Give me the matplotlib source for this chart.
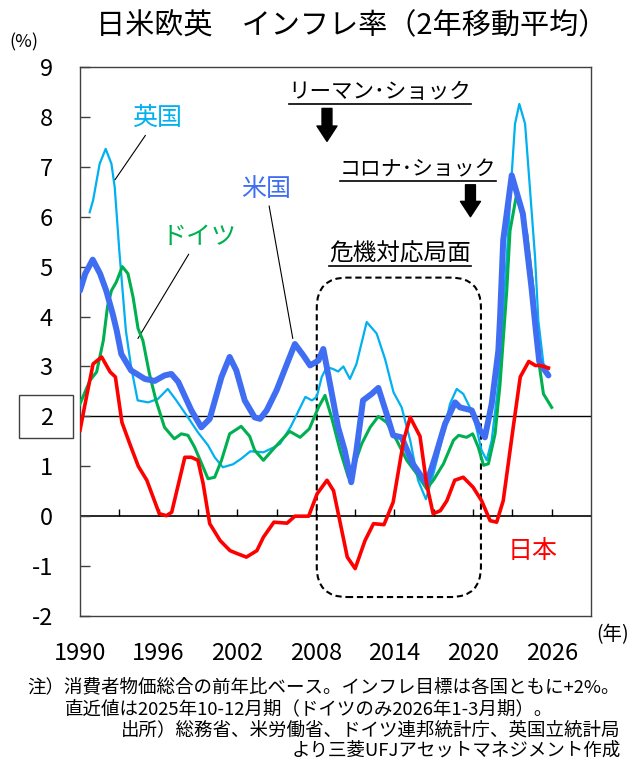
import matplotlib
matplotlib.use("Agg")
import matplotlib.pyplot as plt
import matplotlib.transforms as mtransforms
from matplotlib.patches import FancyBboxPatch, Rectangle
from matplotlib.lines import Line2D

plt.rcParams["font.family"] = ["Noto Sans CJK JP", "DejaVu Sans"]
plt.rcParams["axes.unicode_minus"] = False

# Inflation, 2-year moving average (%), by decimal year
jp_t = [1990.0, 1990.5, 1991.0, 1991.65, 1992.3, 1992.7, 1993.2, 1993.8, 1994.45, 1995.1,
        1996.05, 1996.6, 1997.0, 1998.0, 1998.5, 1999.0, 1999.4, 1999.9, 2000.7, 2001.45,
        2002.0, 2002.7, 2003.5, 2004.0, 2004.8, 2005.8, 2006.4, 2007.45, 2008.1, 2008.85,
        2009.35, 2010.4, 2011.0, 2011.75, 2012.4, 2013.2, 2013.9, 2014.7, 2015.2, 2015.95,
        2016.45, 2016.95, 2017.5, 2018.0, 2018.6, 2019.25, 2020.0, 2020.65, 2021.3, 2021.8,
        2022.3, 2023.1, 2023.6, 2024.25, 2024.75, 2025.1, 2025.75]
jp_v = [1.72, 2.4, 3.05, 3.19, 2.89, 2.79, 1.88, 1.45, 1.0, 0.72,
        0.05, 0.01, 0.08, 1.18, 1.18, 1.12, 0.65, -0.15, -0.49, -0.69,
        -0.75, -0.82, -0.69, -0.42, -0.12, -0.14, 0.0, 0.0, 0.45, 0.72,
        0.51, -0.82, -1.05, -0.49, -0.15, -0.17, 0.28, 1.52, 1.98, 1.6,
        0.65, 0.05, 0.11, 0.31, 0.72, 0.78, 0.58, 0.31, -0.09, -0.12,
        0.31, 1.85, 2.79, 3.1, 3.02, 3.02, 2.97]

us_t = [1990.0, 1990.4, 1990.97, 1991.53, 1992.0, 1992.5, 1992.8, 1993.15, 1993.9, 1994.95,
        1995.7, 1996.45, 1996.97, 1997.5, 1998.5, 1999.26, 1999.9, 2000.8, 2001.42, 2001.93,
        2002.57, 2003.33, 2003.74, 2004.25, 2005.0, 2005.9, 2006.4, 2007.05, 2007.56, 2008.2,
        2008.57, 2009.08, 2009.7, 2010.2, 2010.7, 2011.1, 2011.6, 2012.26, 2012.77, 2013.4,
        2013.9, 2014.55, 2015.4, 2016.45, 2017.1, 2017.86, 2018.63, 2019.0, 2019.9, 2020.53,
        2020.9, 2021.42, 2021.93, 2022.06, 2022.3, 2022.95, 2023.8, 2024.45, 2024.8, 2025.05,
        2025.4, 2025.75]
us_v = [4.52, 4.86, 5.14, 4.86, 4.52, 4.05, 3.72, 3.25, 2.92, 2.75,
        2.71, 2.82, 2.85, 2.69, 2.12, 1.78, 1.95, 2.79, 3.19, 2.92,
        2.32, 1.98, 1.95, 2.12, 2.52, 3.12, 3.45, 3.22, 3.02, 3.12,
        3.35, 2.65, 1.78, 1.32, 0.68, 1.32, 2.32, 2.45, 2.57, 2.05,
        1.62, 1.58, 1.05, 0.65, 1.18, 1.85, 2.28, 2.18, 2.12, 1.72,
        1.58, 2.25, 3.32, 3.99, 5.53, 6.83, 6.06, 4.6, 3.7, 3.1,
        2.95, 2.82]

uk_t = [1990.74, 1991.0, 1991.5, 1991.96, 1992.4, 1992.65, 1993.0, 1993.5, 1993.9, 1994.4,
        1995.2, 1995.95, 1996.7, 1997.35, 1998.24, 1999.0, 1999.77, 2000.28, 2000.9, 2001.68,
        2002.3, 2003.0, 2004.0, 2004.8, 2005.27, 2006.1, 2007.2, 2007.7, 2008.07, 2008.45,
        2008.84, 2009.3, 2009.7, 2010.1, 2010.6, 2011.1, 2011.88, 2012.64, 2013.28, 2013.93,
        2014.55, 2015.2, 2015.8, 2016.4, 2016.97, 2017.74, 2018.24, 2018.75, 2019.25, 2020.0,
        2020.65, 2021.04, 2021.42, 2021.93, 2022.57, 2022.95, 2023.2, 2023.53, 2023.97, 2024.35,
        2024.73, 2024.98, 2025.37, 2025.75]
uk_v = [6.09, 6.33, 7.06, 7.36, 7.06, 6.59, 5.32, 3.72, 2.99, 2.32,
        2.28, 2.35, 2.55, 2.32, 1.98, 1.68, 1.42, 1.18, 0.98, 1.04,
        1.15, 1.3, 1.28, 1.38, 1.45, 1.8, 2.39, 2.32, 2.39, 2.79,
        2.99, 2.95, 2.9, 3.0, 2.75, 3.05, 3.89, 3.66, 3.15, 2.48,
        2.18, 1.52, 0.72, 0.34, 0.85, 1.65, 2.25, 2.55, 2.45, 2.05,
        1.32, 1.12, 1.52, 2.65, 5.19, 6.86, 7.86, 8.26, 7.86, 6.53,
        5.19, 3.92, 3.05, 2.95]

de_t = [1990.0, 1990.76, 1991.27, 1991.78, 1992.1, 1992.4, 1992.77, 1993.23, 1993.66, 1994.05,
        1994.43, 1994.8, 1995.3, 1995.8, 1996.45, 1997.2, 1997.73, 1998.24, 1998.75, 1999.4,
        1999.77, 2000.28, 2000.8, 2001.42, 2002.3, 2002.95, 2003.33, 2004.0, 2004.77, 2006.0,
        2006.8, 2007.5, 2008.2, 2008.7, 2009.2, 2009.85, 2010.48, 2010.87, 2011.5, 2012.14,
        2012.77, 2013.4, 2014.17, 2014.94, 2015.7, 2016.45, 2016.97, 2017.74, 2018.5, 2018.9,
        2019.5, 2019.97, 2020.4, 2020.8, 2021.17, 2021.68, 2022.06, 2022.57, 2022.82, 2023.33,
        2024.1, 2024.6, 2025.0, 2025.37, 2026.0]
de_v = [2.25, 2.72, 2.89, 3.52, 4.2, 4.52, 4.69, 5.0, 4.86, 4.39,
        3.76, 3.52, 2.85, 2.32, 1.78, 1.55, 1.65, 1.62, 1.38, 0.98,
        0.75, 0.78, 1.12, 1.65, 1.8, 1.6, 1.32, 1.12, 1.35, 1.7,
        1.58, 1.75, 2.18, 2.42, 1.98, 1.32, 0.78, 0.98, 1.45, 1.78,
        2.0, 1.88, 1.52, 1.12, 0.85, 0.55, 0.72, 1.05, 1.52, 1.62,
        1.58, 1.65, 1.38, 1.02, 1.05, 1.65, 2.65, 4.52, 5.72, 6.46,
        5.66, 4.52, 3.12, 2.45, 2.18]

year_ticks = list(range(1990, 2027, 6))
minor_year_ticks = list(range(1993, 2027, 3))
value_ticks = list(range(-2, 10))
target_rate = 2

C_JP, C_US, C_UK, C_DE = "#FF0000", "#3F6EF2", "#00B0F0", "#00B050"

W, H = 635, 760
fig = plt.figure(figsize=(W / 100, H / 100), dpi=100)
ax = fig.add_axes([80 / W, 1 - 616 / H, (591 - 80) / W, (616 - 67) / H])
ax.set_xlim(1990, 2029)
ax.set_ylim(-2, 9)

for s in ax.spines.values():
    s.set_color("#404040")
    s.set_linewidth(1.0)

# reference lines and the year ticks that sit on the zero line
ax.axhline(target_rate, color="black", lw=1.0, zorder=1)
ax.axhline(0, color="black", lw=1.2, zorder=1)
ax.vlines(minor_year_ticks, 0, 0.14, colors="black", lw=1.0, zorder=1)

ax.plot(uk_t, uk_v, color=C_UK, lw=1.6, zorder=3, solid_joinstyle="round")
ax.plot(de_t, de_v, color=C_DE, lw=2.2, zorder=4, solid_joinstyle="round")
ax.plot(us_t, us_v, color=C_US, lw=4.3, zorder=5, solid_joinstyle="round", solid_capstyle="round")
ax.plot(jp_t, jp_v, color=C_JP, lw=2.6, zorder=6, solid_joinstyle="round")

ax.set_yticks(value_ticks)
ax.tick_params(axis="y", direction="in", length=7, width=1, pad=19.5, labelsize=17, color="#404040")
ax.set_xticks(year_ticks)
ax.tick_params(axis="x", length=0, pad=19, labelsize=17)

# box around the target-rate tick label
blend = mtransforms.blended_transform_factory(fig.transFigure, ax.transData)
ax.add_patch(Rectangle((19 / W, target_rate - 0.43), (73 - 19) / W, 0.86, transform=blend,
                       fill=False, ec="#404040", lw=1.0, clip_on=False))

# crisis-response period
crisis = FancyBboxPatch((2008.07, -1.62), 2020.6 - 2008.07, 4.78 + 1.62,
                        boxstyle="round,pad=0,rounding_size=2.3", mutation_aspect=0.262,
                        fill=False, ec="black", lw=1.5, ls=(0, (3, 1.8)), zorder=2)
ax.add_patch(crisis)

# series labels with leader lines
lead = dict(arrowstyle="-", lw=0.8, color="black", shrinkA=1, shrinkB=0)
ax.annotate("英国", xy=(1992.67, 6.74), xytext=(1995.88, 7.97), color=C_UK, fontsize=18,
            ha="center", va="center", arrowprops=lead)
ax.annotate("ドイツ", xy=(1994.42, 3.56), xytext=(1999.08, 5.59), color=C_DE, fontsize=18,
            ha="center", va="center", arrowprops=lead)
ax.annotate("米国", xy=(2006.24, 3.56), xytext=(2004.2, 6.56), color=C_US, fontsize=18,
            ha="center", va="center", arrowprops=lead)
ax.text(2024.58, -0.69, "日本", color=C_JP, fontsize=18, ha="center", va="center")

# event labels
t_lehman = ax.text(2012.9, 8.49, "リーマン･ショック", fontsize=15.5, ha="center", va="center",
                   style="italic")
t_corona = ax.text(2015.8, 6.95, "コロナ･ショック", fontsize=15, ha="center", va="center",
                   style="italic")
t_crisis = ax.text(2014.43, 5.26, "危機対応局面", fontsize=17, ha="center", va="center",
                   style="italic")
arrow = dict(arrowstyle="simple,head_length=0.65,head_width=0.85,tail_width=0.42",
             fc="black", ec="black", mutation_scale=17, shrinkA=0, shrinkB=0)
ax.annotate("", xy=(2008.85, 7.51), xytext=(2008.85, 8.17), arrowprops=arrow)
ax.annotate("", xy=(2019.8, 6.0), xytext=(2019.8, 6.64), arrowprops=arrow)

# titles and notes
fig.text(352 / W, 1 - 26 / H, "日米欧英　インフレ率（2年移動平均）", fontsize=21, ha="center", va="center")
fig.text(24 / W, 1 - 42 / H, "(%)", fontsize=13, ha="center", va="center")
fig.text(596 / W, 1 - 635 / H, "(年)", fontsize=14, ha="left", va="center")
fig.text(27 / W, 1 - 687 / H, "注）消費者物価総合の前年比ベース。インフレ目標は各国ともに+2%。",
         fontsize=13.3, ha="left", va="center")
fig.text(65 / W, 1 - 709 / H, "直近値は2025年10-12月期（ドイツのみ2026年1-3月期）。",
         fontsize=13.3, ha="left", va="center")
fig.text(121 / W, 1 - 730 / H, "出所）総務省、米労働省、ドイツ連邦統計庁、英国立統計局",
         fontsize=13.3, ha="left", va="center")
fig.text(621 / W, 1 - 751 / H, "より三菱UFJアセットマネジメント作成",
         fontsize=13.3, ha="right", va="center")

# underline the event labels
fig.canvas.draw()
renderer = fig.canvas.get_renderer()
for t in (t_lehman, t_corona, t_crisis):
    bb = t.get_window_extent(renderer)
    y = bb.y0 - 1
    fig.add_artist(Line2D([bb.x0, bb.x1], [y, y], transform=mtransforms.IdentityTransform(),
                          color="black", lw=1.2))

fig.savefig("out.png", dpi=100)
